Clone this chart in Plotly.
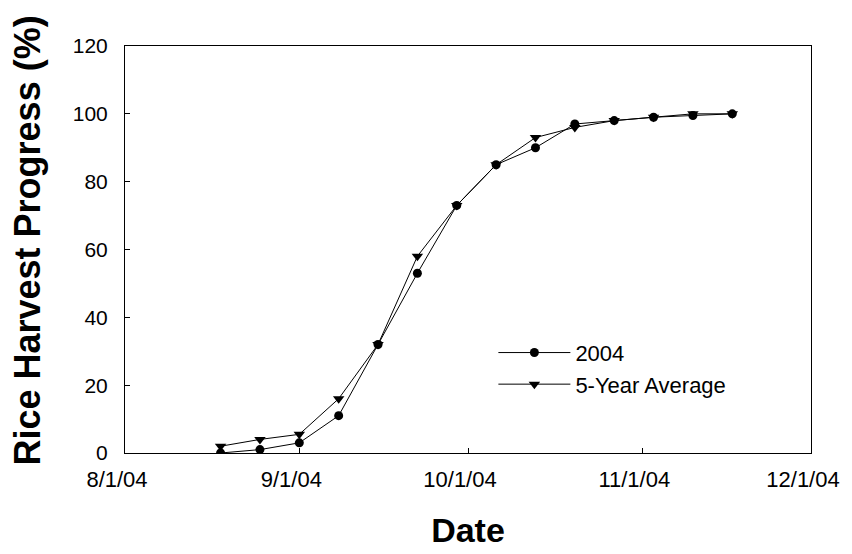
import plotly.graph_objects as go

dates = ["2004-08-18", "2004-08-25", "2004-09-01", "2004-09-08", "2004-09-15",
         "2004-09-22", "2004-09-29", "2004-10-06", "2004-10-13", "2004-10-20",
         "2004-10-27", "2004-11-03", "2004-11-10", "2004-11-17"]
progress_2004 = [0, 1, 3, 11, 32, 53, 73, 85, 90, 97, 98, 99, 99.5, 100]
progress_avg = [2, 4, 5.5, 16, 32, 58, 73, 85, 93, 96, 98, 99, 100, 100]

tick_vals = ["2004-08-01", "2004-09-01", "2004-10-01", "2004-11-01", "2004-12-01"]
tick_text = ["8/1/04", "9/1/04", "10/1/04", "11/1/04", "12/1/04"]
y_ticks = [0, 20, 40, 60, 80, 100, 120]

FONT = "Liberation Sans, Arial, sans-serif"

fig = go.Figure()
fig.add_trace(go.Scatter(
    x=dates, y=progress_2004, name="2004", mode="lines+markers",
    line=dict(color="black", width=1),
    marker=dict(symbol="circle", size=9, color="black"),
))
fig.add_trace(go.Scatter(
    x=dates, y=progress_avg, name="5-Year Average", mode="lines+markers",
    line=dict(color="black", width=1),
    marker=dict(symbol="triangle-down", size=10, color="black"),
))

fig.update_layout(
    width=844, height=546,
    margin=dict(l=117, r=39, t=38, b=94),
    paper_bgcolor="white", plot_bgcolor="white",
    font=dict(family=FONT, color="black"),
    showlegend=True,
    legend=dict(
        x=0.537, y=0.207, xanchor="left", yanchor="middle",
        bgcolor="rgba(0,0,0,0)", borderwidth=0,
        font=dict(size=22, family=FONT, color="black"),
        itemwidth=72, tracegroupgap=0,
    ),
    xaxis=dict(
        type="date",
        range=["2004-08-01", "2004-12-01"],
        tickvals=tick_vals, ticktext=tick_text,
        ticks="inside", ticklen=5, tickcolor="black", tickwidth=1,
        showline=True, linecolor="black", linewidth=1, mirror=True,
        showgrid=False, zeroline=False,
        tickfont=dict(size=22, family=FONT, color="black"),
        ticklabelstandoff=7,
        ticklabelshift=-8,
        title=dict(text="<b>Date</b>", font=dict(size=34, family=FONT, color="black"), standoff=26),
    ),
    yaxis=dict(
        range=[0, 120],
        tickvals=y_ticks,
        ticks="inside", ticklen=5, tickcolor="black", tickwidth=1,
        showline=True, linecolor="black", linewidth=1, mirror=True,
        showgrid=False, zeroline=False,
        tickfont=dict(size=21, family=FONT, color="black"),
        ticklabelstandoff=12,
    ),
    annotations=[dict(
        text="<b>Rice Harvest Progress (%)</b>",
        xref="paper", yref="paper", x=0, y=0.522,
        xanchor="center", yanchor="middle", xshift=-97,
        textangle=-90, showarrow=False,
        font=dict(size=36, family=FONT, color="black"),
    )],
)

fig.write_html("out.html")
